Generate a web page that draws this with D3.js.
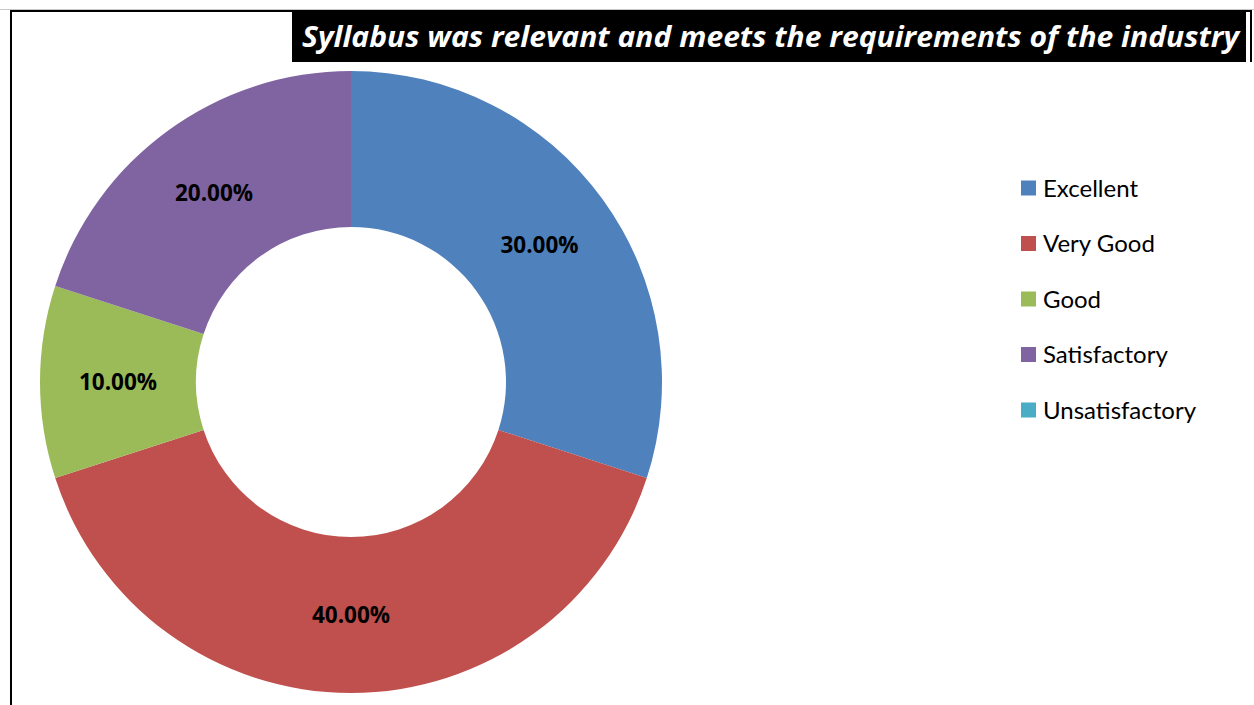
<!DOCTYPE html>
<html><head><meta charset="utf-8">
<script src="https://cdn.jsdelivr.net/npm/d3@7"></script>
<style>html,body{margin:0;padding:0;background:#fff;overflow:hidden}</style>
</head><body>
<svg id="chart" width="1254" height="705"></svg>
<script>
const categories = ["Excellent", "Very Good", "Good", "Satisfactory", "Unsatisfactory"];
const values = [30, 40, 10, 20, 0];
const colors = ["#4F81BD", "#C0504D", "#9BBB59", "#8064A2", "#4BACC6"];
const titleText = "Syllabus was relevant and meets the requirements of the industry";

const svg = d3.select("#chart");
const W = 1254, H = 705;

// frame
svg.append("line").attr("x1", 0).attr("x2", W).attr("y1", 9.5).attr("y2", 9.5).attr("stroke", "#c8c8c8").attr("stroke-width", 1);
svg.append("path").attr("d", `M11,705 L11,11 L1251,11 L1251,62`).attr("fill", "none").attr("stroke", "#000").attr("stroke-width", 2);

// title
svg.append("rect").attr("x", 292).attr("y", 12).attr("width", 954).attr("height", 50).attr("fill", "#000");
svg.append("text").attr("x", 302).attr("y", 47)
  .attr("font-family", "'Open Sans', sans-serif").attr("font-style", "italic").attr("font-weight", "bold")
  .attr("font-size", 28).attr("fill", "#fff")
  .attr("textLength", 937).attr("lengthAdjust", "spacingAndGlyphs")
  .text(titleText);

// donut
const cx = 351, cy = 382, rOuter = 311, rInner = 155;
const color = d3.scaleOrdinal().domain(categories).range(colors);
const pie = d3.pie().value(d => d.value).sort(null);
const arc = d3.arc().innerRadius(rInner).outerRadius(rOuter);
const data = categories.map((c, i) => ({ cat: c, value: values[i] }));
const g = svg.append("g").attr("transform", `translate(${cx},${cy})`);
const arcs = pie(data);
g.selectAll("path.slice").data(arcs).join("path").attr("class", "slice")
  .attr("d", arc).attr("fill", d => color(d.data.cat));
const fmt = d3.format(".2%");
const total = d3.sum(values);
g.selectAll("text.lbl").data(arcs.filter(d => d.data.value > 0)).join("text").attr("class", "lbl")
  .attr("transform", d => `translate(${arc.centroid(d)})`)
  .attr("text-anchor", "middle").attr("dy", "0.35em")
  .attr("font-family", "'Open Sans', sans-serif").attr("font-weight", "bold").attr("font-size", 22.5)
  .attr("fill", "#000")
  .text(d => fmt(d.data.value / total));

// legend
const ly = d3.scalePoint().domain(categories).range([188, 410]);
const lg = svg.append("g");
const items = lg.selectAll("g").data(categories).join("g").attr("transform", d => `translate(1021,${ly(d)})`);
items.append("rect").attr("x", 0).attr("y", -7.5).attr("width", 15).attr("height", 15).attr("fill", d => color(d));
items.append("text").attr("x", 22).attr("dy", "0.36em")
  .attr("font-family", "Lato, sans-serif").attr("font-size", 24).attr("fill", "#000").text(d => d);
</script>
</body></html>
